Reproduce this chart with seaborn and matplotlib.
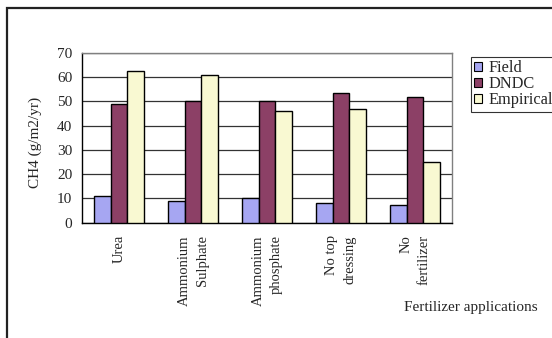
import matplotlib
matplotlib.use("Agg")
import matplotlib.pyplot as plt
from matplotlib.patches import Rectangle
import seaborn as sns
import pandas as pd

# Fertilizer treatments and simulated / observed CH4 emissions
treatments = ["Urea", "Ammonium\nSulphate", "Ammonium\nphosphate",
              "No top\ndressing", "No\nfertilizer"]
field = [11.0, 9.0, 10.0, 8.2, 7.4]
dndc = [49.0, 50.0, 50.0, 53.6, 51.6]
empirical = [62.5, 61.0, 46.0, 47.0, 24.8]
series_names = ["Field", "DNDC", "Empirical"]
yticks = [0, 10, 20, 30, 40, 50, 60, 70]

colors = ["#9999FF", "#993366", "#FFFFCC"]

rows = []
for name, vals in zip(series_names, [field, dndc, empirical]):
    for t, v in zip(treatments, vals):
        rows.append({"treatment": t, "ch4": v, "series": name})
df = pd.DataFrame(rows)

sns.set_theme(style="white")
plt.rcParams["font.family"] = ["Liberation Serif", "DejaVu Serif"]

W, H = 552, 338
fig = plt.figure(figsize=(W / 100, H / 100), dpi=100)
fig.patch.set_facecolor("white")

# outer chart frame (only top and left edges fall inside the canvas)
fig.patches.append(Rectangle((7 / W, 0 - 0.05), 1.2, 1 - 7.5 / H + 0.05,
                             transform=fig.transFigure, fill=False,
                             edgecolor="#222222", linewidth=1.6, zorder=0))

ax = fig.add_axes([82 / W, 1 - 222.7 / H, (452 - 82) / W, (222.7 - 52.7) / H])
ax.set_facecolor("white")

sns.barplot(data=df, x="treatment", y="ch4", hue="series",
            order=treatments, hue_order=series_names, palette=colors,
            edgecolor="black", linewidth=1.0, width=0.68, gap=0,
            errorbar=None, ax=ax, zorder=3)

handles, labels = ax.get_legend_handles_labels()
if ax.legend_ is not None:
    ax.legend_.remove()

ax.set_ylim(0, 70)
ax.set_xlim(-0.5, len(treatments) - 0.5)
ax.set_yticks(yticks)
ax.yaxis.grid(True, color="#333333", linewidth=0.9, zorder=0)
ax.set_axisbelow(True)

for side in ["top", "right"]:
    ax.spines[side].set_color("#808080")
    ax.spines[side].set_linewidth(1.0)
for side in ["left", "bottom"]:
    ax.spines[side].set_color("black")
    ax.spines[side].set_linewidth(1.0)

ax.tick_params(axis="y", which="major", direction="out", length=4,
               width=1, color="black", labelsize=11, pad=3)
ax.set_xticks(range(len(treatments)))
ax.set_xticks([i - 0.5 for i in range(len(treatments) + 1)], minor=True)
ax.tick_params(axis="x", which="major", length=0, pad=9)
ax.tick_params(axis="x", which="minor", direction="out", length=4,
               width=1, color="black")
ax.set_xticklabels(treatments, rotation=90, va="top", ha="center",
                   multialignment="right", fontsize=10.5, linespacing=1.5)
for lab in ax.get_yticklabels():
    lab.set_fontsize(11)

ax.set_xlabel("")
ax.set_ylabel("")

fig.text(35 / W, 1 - 142 / H, "CH4 (g/m2/yr)", rotation=90,
         ha="center", va="center", fontsize=11)
fig.text(538 / W, 1 - 308 / H, "Fertilizer applications",
         ha="right", va="center", fontsize=11)

leg = fig.legend(handles, labels, loc="upper left",
                 bbox_to_anchor=(471 / W, 1 - 57 / H),
                 frameon=True, fancybox=False, fontsize=11.8,
                 handlelength=0.5, handleheight=0.5, handletextpad=0.35,
                 labelspacing=0.0, borderpad=0.2, borderaxespad=0)
leg.get_frame().set_edgecolor("black")
leg.get_frame().set_linewidth(0.8)
for h in leg.legend_handles:
    h.set_edgecolor("black")
    h.set_linewidth(0.8)

fig.savefig("out.png", dpi=100)
